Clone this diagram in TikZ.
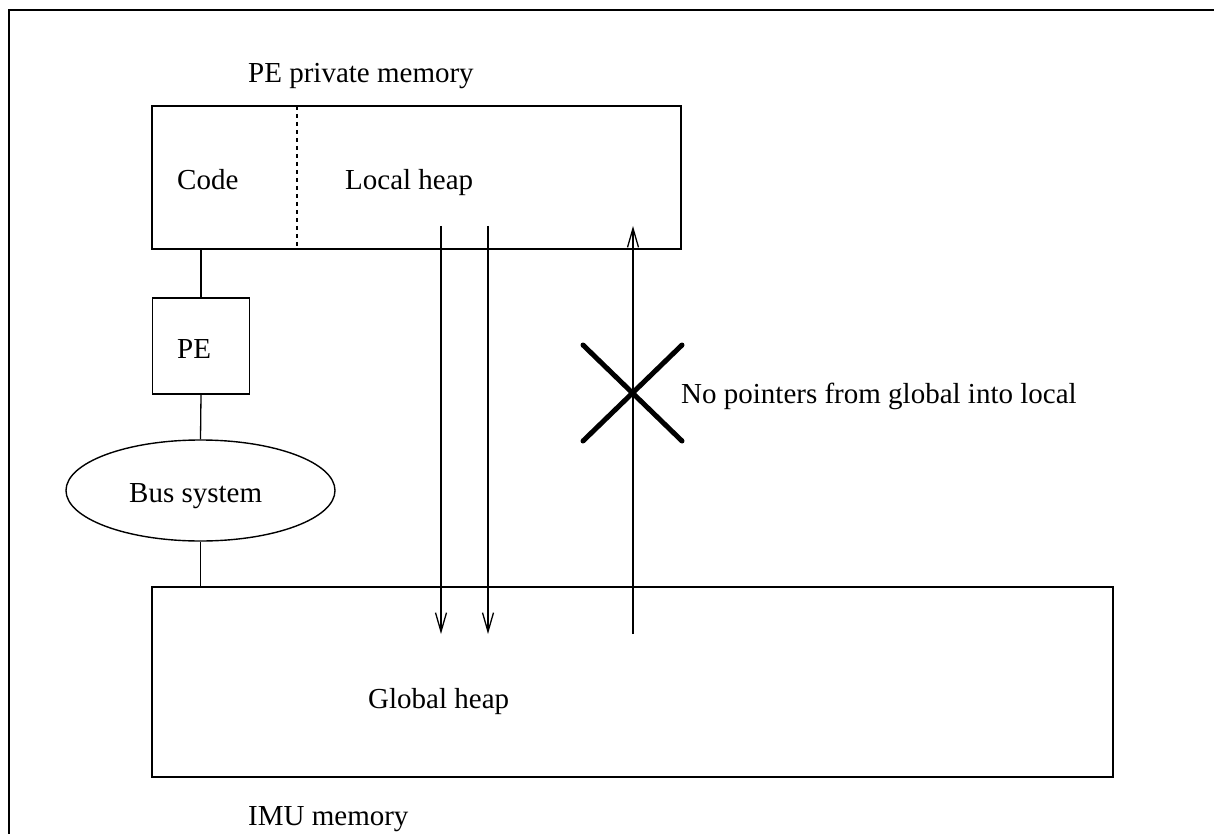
\documentclass[tikz,border=0pt]{standalone}
\usepackage{fontspec}
\setmainfont{Liberation Serif}
\usetikzlibrary{arrows.meta,shapes.geometric}
\begin{document}
\begin{tikzpicture}[x=1pt,y=-1pt,
  box/.style={draw,line width=1.4pt,inner sep=0pt},
  conn/.style={line width=1.3pt},
  arr/.style={line width=1.3pt,-{Straight Barb[length=19pt,width=11pt,line width=1.3pt]}},
  lbl/.style={anchor=base west,inner sep=0pt,font=\fontsize{29}{34}\selectfont},
  cross/.style={line width=5pt,line cap=round}]
\useasboundingbox (0,0) rectangle (1214,834);
\draw[line width=2pt] (9,840) -- (9,10) -- (1220,10);
% boxes
\node[box,minimum width=529pt,minimum height=143pt] (pmem) at (416.5,177.5) {};
\node[box,minimum width=97pt,minimum height=96pt] (pe) at (201,346) {};
\node[draw,line width=1.4pt,ellipse,minimum width=269pt,minimum height=101pt,inner sep=0pt] (bus) at (200.5,490.5) {};
\node[box,minimum width=961pt,minimum height=190pt] (gmem) at (632.5,682) {};
% dashed separator
\coordinate (dtop) at (297,106);
\draw[line width=1.3pt,dash pattern=on 4pt off 4pt] (dtop) -- (dtop |- pmem.south);
% labels
\node[lbl] (t1) at (248,83) {PE private memory};
\node[lbl] (t2) at (177,190) {Code};
\node[lbl] (t3) at (345,190) {Local heap};
\node[lbl] (t4) at (177,358) {PE};
\node[lbl] (t5) at (129,502) {Bus system};
\node[lbl] (t6) at (368,708) {Global heap};
\node[lbl] (t7) at (248,825) {IMU memory};
\node[lbl] (t8) at (681,403) {No pointers from global into local};
% connectors
\draw[conn] (pe.north) -- (pe.north |- pmem.south);
\draw[conn] (pe.south) -- (bus.north);
\draw[conn] (bus.south) -- (bus.south |- gmem.north);
% arrows
\coordinate (a1s) at (441,226); \coordinate (a1e) at (441,634);
\coordinate (a2s) at (488,226); \coordinate (a2e) at (488,634);
\coordinate (a3s) at (633,634); \coordinate (a3e) at (633,226);
\draw[arr] (a1s) -- (a1e);
\draw[arr] (a2s) -- (a2e);
\draw[arr] (a3s) -- (a3e);
% cross
\coordinate (xc) at (632,393);
\draw[cross] (583,345) -- (682,441);
\draw[cross] (682,345) -- (583,441);
\end{tikzpicture}
\end{document}
